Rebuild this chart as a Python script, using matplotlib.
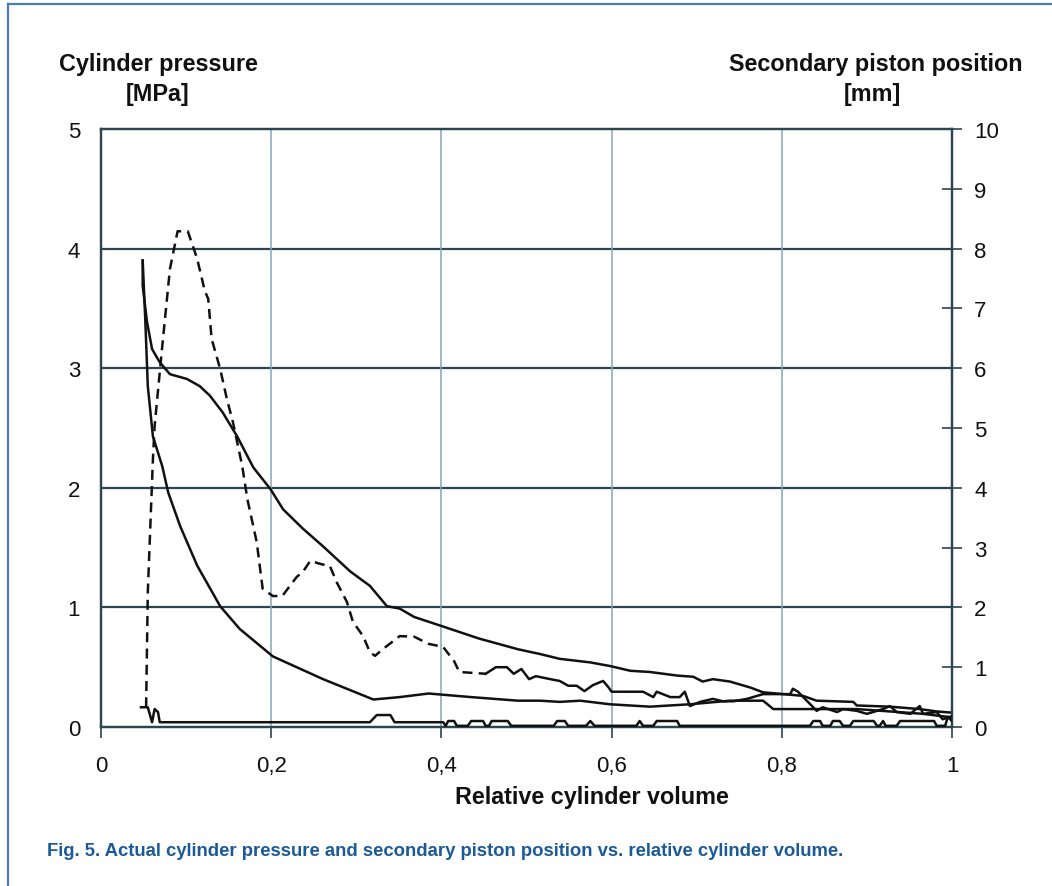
import matplotlib
matplotlib.use("Agg")
import matplotlib.pyplot as plt
from matplotlib.lines import Line2D
from matplotlib.ticker import FixedLocator

# ---------------- data ----------------
# Cylinder pressure [MPa] - lower branch (compression), relative volume
comp_v = [0.049, 0.052, 0.055, 0.061, 0.072, 0.079, 0.093, 0.113, 0.140, 0.163,
          0.202, 0.261, 0.320, 0.351, 0.385, 0.435, 0.490, 0.516, 0.539, 0.563,
          0.598, 0.645, 0.692, 0.739, 0.778, 0.790, 0.833, 0.888, 0.966, 1.000]
comp_p = [3.90, 3.41, 2.85, 2.43, 2.18, 1.96, 1.68, 1.35, 1.01, 0.82,
          0.59, 0.40, 0.23, 0.25, 0.28, 0.25, 0.22, 0.22, 0.21, 0.22,
          0.19, 0.17, 0.19, 0.22, 0.22, 0.15, 0.15, 0.15, 0.11, 0.08]
# upper branch (expansion)
exp_v = [0.049, 0.049, 0.054, 0.060, 0.069, 0.081, 0.101, 0.116, 0.128, 0.143,
         0.160, 0.179, 0.199, 0.214, 0.237, 0.261, 0.293, 0.316, 0.336, 0.351,
         0.368, 0.402, 0.444, 0.490, 0.516, 0.539, 0.575, 0.598, 0.622, 0.645,
         0.677, 0.696, 0.707, 0.719, 0.739, 0.763, 0.778, 0.794, 0.825, 0.841,
         0.884, 0.888, 0.927, 0.962, 0.982, 1.000]
exp_p = [3.90, 3.69, 3.39, 3.16, 3.05, 2.95, 2.91, 2.85, 2.77, 2.63,
         2.43, 2.17, 1.99, 1.82, 1.66, 1.51, 1.30, 1.18, 1.01, 0.99,
         0.92, 0.84, 0.74, 0.65, 0.61, 0.57, 0.54, 0.51, 0.47, 0.46,
         0.43, 0.42, 0.38, 0.40, 0.38, 0.33, 0.29, 0.28, 0.26, 0.22,
         0.21, 0.18, 0.17, 0.15, 0.13, 0.12]

# Secondary piston position [mm] - rising / decaying branch (dashed)
pist_v = [0.053, 0.055, 0.061, 0.063, 0.072, 0.081, 0.090, 0.102, 0.113, 0.122,
          0.126, 0.130, 0.140, 0.148, 0.155, 0.166, 0.172, 0.183, 0.190, 0.202,
          0.213, 0.222, 0.230, 0.237, 0.246, 0.257, 0.269, 0.277, 0.289, 0.296,
          0.308, 0.316, 0.322, 0.331, 0.351, 0.368, 0.385, 0.402, 0.415, 0.421,
          0.452, 0.464, 0.477, 0.485, 0.494, 0.503, 0.511, 0.528, 0.539, 0.549,
          0.559, 0.568, 0.578, 0.590, 0.596, 0.600, 0.637, 0.649, 0.653, 0.669,
          0.680, 0.686, 0.692, 0.704, 0.719, 0.731, 0.743, 0.759, 0.778, 0.810,
          0.813, 0.819, 0.830, 0.841, 0.848, 0.865, 0.872, 0.888, 0.900, 0.919,
          0.927, 0.935, 0.951, 0.962, 0.966, 0.982, 0.989, 1.000]
pist_mm = [0.33, 2.26, 4.48, 5.03, 6.37, 7.66, 8.29, 8.29, 7.83, 7.29,
           7.16, 6.49, 5.99, 5.48, 5.10, 4.36, 3.81, 3.09, 2.31, 2.19,
           2.19, 2.36, 2.51, 2.59, 2.78, 2.73, 2.69, 2.42, 2.09, 1.76,
           1.52, 1.25, 1.19, 1.30, 1.52, 1.51, 1.39, 1.34, 1.10, 0.92,
           0.89, 1.00, 1.00, 0.89, 0.97, 0.80, 0.85, 0.80, 0.77, 0.69,
           0.69, 0.60, 0.70, 0.77, 0.67, 0.59, 0.59, 0.50, 0.59, 0.50,
           0.50, 0.59, 0.35, 0.42, 0.47, 0.43, 0.43, 0.47, 0.55, 0.55,
           0.64, 0.59, 0.43, 0.27, 0.33, 0.25, 0.30, 0.27, 0.22, 0.30,
           0.35, 0.25, 0.22, 0.35, 0.22, 0.25, 0.13, 0.18]
# near-zero branch along the bottom (solid)
base_v = [0.047, 0.055, 0.060, 0.063, 0.067, 0.069, 0.316, 0.324, 0.340, 0.345,
          0.402, 0.405, 0.408, 0.415, 0.418, 0.431, 0.435, 0.449, 0.452, 0.456,
          0.459, 0.478, 0.482, 0.532, 0.536, 0.545, 0.549, 0.570, 0.575, 0.580,
          0.629, 0.633, 0.637, 0.649, 0.653, 0.677, 0.680, 0.833, 0.837, 0.845,
          0.848, 0.857, 0.860, 0.868, 0.872, 0.880, 0.884, 0.908, 0.912, 0.915,
          0.919, 0.922, 0.935, 0.939, 0.979, 0.982, 0.992, 0.995, 1.000]
base_mm = [0.33, 0.33, 0.08, 0.30, 0.25, 0.08, 0.08, 0.20, 0.20, 0.08,
           0.08, 0.02, 0.10, 0.10, 0.02, 0.02, 0.10, 0.10, 0.02, 0.02,
           0.10, 0.10, 0.02, 0.02, 0.10, 0.10, 0.02, 0.02, 0.10, 0.02,
           0.02, 0.10, 0.02, 0.02, 0.10, 0.10, 0.02, 0.02, 0.10, 0.10,
           0.02, 0.02, 0.10, 0.10, 0.02, 0.02, 0.10, 0.10, 0.02, 0.02,
           0.10, 0.02, 0.02, 0.10, 0.10, 0.02, 0.02, 0.17, 0.10]

x_ticks = [0, 0.2, 0.4, 0.6, 0.8, 1.0]
x_labels = ["0", "0,2", "0,4", "0,6", "0,8", "1"]
left_ticks = [0, 1, 2, 3, 4, 5]
right_ticks = list(range(0, 11))

# ---------------- style ----------------
plt.rcParams["font.family"] = ["Liberation Sans", "DejaVu Sans"]
DARK = "#2b4650"
VGRID = "#86a6b8"
LINE = "#111111"
TXT = "#111111"
DASH_UNTIL = 0.452   # beyond this volume the piston trace is drawn solid

fig = plt.figure(figsize=(10.52, 8.87), dpi=100)
ax = fig.add_axes([101 / 1052, 1 - 728 / 887, 851 / 1052, 598 / 887])
ax2 = ax.twinx()

ax.set_xlim(0, 1)
ax.set_ylim(0, 5)
ax2.set_ylim(0, 10)

# grid
for yv in left_ticks[1:-1]:
    ax.axhline(yv, color=DARK, lw=1.6, zorder=1)
for xv in x_ticks[1:-1]:
    ax.axvline(xv, color=VGRID, lw=1.1, zorder=1)

# curves
ax.plot(comp_v, comp_p, color=LINE, lw=1.8, zorder=3)
ax.plot(exp_v, exp_p, color=LINE, lw=1.8, zorder=3)
split = next(i for i, v in enumerate(pist_v) if v >= DASH_UNTIL)
ax2.plot(pist_v[:split + 1], pist_mm[:split + 1], color=LINE, lw=1.8,
         ls=(0, (4, 2.5)), zorder=3)
ax2.plot(pist_v[split:], pist_mm[split:], color=LINE, lw=1.8, zorder=3)
ax2.plot(base_v, base_mm, color=LINE, lw=1.8, zorder=3)

for a in (ax, ax2):
    for s in a.spines.values():
        s.set_color(DARK)
        s.set_linewidth(1.6)

ax.xaxis.set_major_locator(FixedLocator(x_ticks))
ax.set_xticklabels(x_labels)
ax.tick_params(axis="x", direction="out", length=8, width=1.2, color=DARK,
               labelsize=16, pad=12, labelcolor=TXT)
ax.yaxis.set_major_locator(FixedLocator(left_ticks))
ax.tick_params(axis="y", direction="out", length=0, labelsize=16, pad=15,
               labelcolor=TXT)
ax2.yaxis.set_major_locator(FixedLocator(right_ticks))
ax2.tick_params(axis="y", direction="inout", length=14, width=1.2, color=DARK,
                labelsize=16, pad=9, labelcolor=TXT)

ax.set_xlabel("Relative cylinder volume", fontsize=16.8, fontweight="bold",
              color=TXT, va="center")
ax.xaxis.set_label_coords((591.5 - 101) / 851, (728 - 798) / 598)

# axis titles
TS = 16.8
fig.text(158 / 1052, 1 - 65 / 887, "Cylinder pressure", ha="center", va="center",
         fontsize=TS, fontweight="bold", color=TXT)
fig.text(157.5 / 1052, 1 - 95 / 887, "[MPa]", ha="center", va="center",
         fontsize=TS, fontweight="bold", color=TXT)
fig.text(876 / 1052, 1 - 65 / 887, "Secondary piston position", ha="center",
         va="center", fontsize=TS, fontweight="bold", color=TXT)
fig.text(872 / 1052, 1 - 95 / 887, "[mm]", ha="center", va="center",
         fontsize=TS, fontweight="bold", color=TXT)

# caption
fig.text(47 / 1052, 1 - 852 / 887,
         "Fig. 5. Actual cylinder pressure and secondary piston position vs. relative cylinder volume.",
         ha="left", va="center", fontsize=13.3, fontweight="bold", color="#1b5a98")

# frame border (top and left)
fig.add_artist(Line2D([8 / 1052, 8 / 1052], [0, 1 - 5 / 887], transform=fig.transFigure,
                      color="#4a7db4", lw=1.6))
fig.add_artist(Line2D([8 / 1052, 1], [1 - 5 / 887, 1 - 5 / 887], transform=fig.transFigure,
                      color="#4a7db4", lw=1.6))

fig.savefig("out.png", dpi=100)
